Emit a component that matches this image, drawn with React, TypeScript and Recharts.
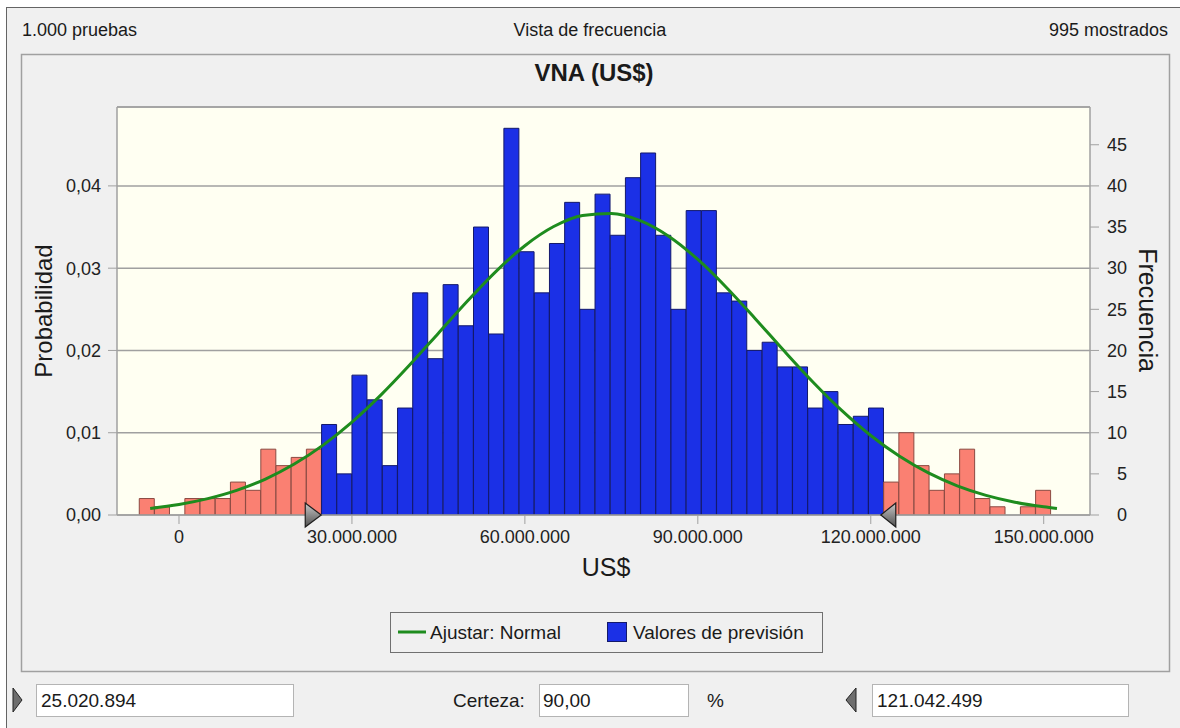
import React from "react";
import {
  ComposedChart,
  Bar,
  Line,
  XAxis,
  YAxis,
  CartesianGrid,
  Cell,
  ReferenceDot,
} from "recharts";

// histogram bins (US$)
const BIN_START = -6.89e6;
const BIN_WIDTH = 2.6353e6;
const frequencies = [
  2, 1, 0, 2, 2, 2, 4, 3, 8, 6, 7, 8,
  11, 5, 17, 14, 6, 13, 27, 19, 28, 23, 35, 22, 47, 32, 27, 33, 38, 25, 39, 34, 41, 44,
  34, 25, 37, 37, 27, 26, 20, 21, 18, 18, 13, 15, 11, 12, 13,
  4, 10, 6, 3, 5, 8, 2, 1, 0, 1, 3,
];

// fitted normal curve (x in millions, probability)
const fitX = [
  -5, 0, 5, 10, 15, 20, 25, 30, 35, 40, 45, 50, 55, 60, 65, 70, 75, 80, 85, 90,
  95, 100, 105, 110, 115, 120, 125, 130, 135, 140, 145, 150, 152.3,
];
const fitProb = [
  0.0008, 0.00128, 0.00199, 0.00299, 0.00437, 0.00619, 0.00849, 0.01129, 0.01457,
  0.01823, 0.0221, 0.02598, 0.02962, 0.03273, 0.03506, 0.03641, 0.03666, 0.03578,
  0.03386, 0.03106, 0.02763, 0.02383, 0.01992, 0.01614, 0.01268, 0.00966, 0.00713,
  0.00511, 0.00355, 0.00239, 0.00156, 0.00099, 0.00079,
];

const LOWER = 25020894;
const UPPER = 121042499;

const X_DOMAIN = [-10.755e6, 158.03e6];
const xTicks = [0, 30e6, 60e6, 90e6, 120e6, 150e6];
const probTicks = [0, 0.01, 0.02, 0.03, 0.04];
const freqTicks = [0, 5, 10, 15, 20, 25, 30, 35, 40, 45];

const FONT = "'Liberation Sans', Arial, sans-serif";
const GRAY = "#a0a0a0";
const RED = "#fa8072";
const BLUE = "#1b30e6";

// plot is 973px wide over X_DOMAIN; pad the bin band so bins line up with the value axis
const PLOT_W = 973;
const pxPerUnit = PLOT_W / (X_DOMAIN[1] - X_DOMAIN[0]);
const BIN_PAD_LEFT = (BIN_START - X_DOMAIN[0]) * pxPerUnit;
const BIN_PAD_RIGHT = (X_DOMAIN[1] - (BIN_START + frequencies.length * BIN_WIDTH)) * pxPerUnit;

const fmtThousands = (v: number) =>
  String(Math.round(v)).replace(/\B(?=(\d{3})+(?!\d))/g, ".");

const bins = frequencies.map((f, i) => ({
  bin: i,
  freq: f,
  start: BIN_START + i * BIN_WIDTH,
}));

const curve = fitX.map((x, i) => ({ x: x * 1e6, prob: fitProb[i] }));

function Marker({ cx, cy, dir }: { cx?: number; cy?: number; dir: "right" | "left" }) {
  if (cx == null || cy == null) return null;
  const id = "mk-" + dir;
  const pts =
    dir === "right"
      ? `${cx - 18},${cy - 12} ${cx - 2},${cy} ${cx - 18},${cy + 12}`
      : `${cx + 19},${cy - 12} ${cx + 4},${cy} ${cx + 19},${cy + 12}`;
  return (
    <g>
      <defs>
        <linearGradient id={id} x1="0" y1="0" x2="0" y2="1">
          <stop offset="0%" stopColor="#c8c8c8" />
          <stop offset="100%" stopColor="#505050" />
        </linearGradient>
      </defs>
      <polygon points={pts} fill={`url(#${id})`} stroke="#1e1e1e" strokeWidth={1.2} />
    </g>
  );
}

function RightTick({ x, y, payload }: any) {
  return (
    <text x={x + 28} y={y} dy="0.35em" textAnchor="end" fontSize={18} fontFamily={FONT} fill="#222">
      {payload.value}
    </text>
  );
}

function Frame() {
  const txt = { fontFamily: FONT, fill: "#1a1a1a" } as const;
  return (
    <svg width={1180} height={728} style={{ position: "absolute", left: 0, top: 0 }}>
      <rect x={0} y={0} width={1180} height={728} fill="#ffffff" />
      <rect x={6} y={7} width={1174} height={721} fill="#f0f0f0" />
      <line x1={6} y1={7.5} x2={1180} y2={7.5} stroke="#646464" />
      <line x1={6.5} y1={7} x2={6.5} y2={728} stroke="#646464" />
      <rect x={21.5} y={54.5} width={1148} height={617} fill="none" stroke={GRAY} strokeWidth={1.5} />

      <text x={22} y={36} fontSize={18} {...txt}>1.000 pruebas</text>
      <text x={590} y={36} fontSize={18} textAnchor="middle" {...txt}>Vista de frecuencia</text>
      <text x={1168} y={36} fontSize={18} textAnchor="end" {...txt}>995 mostrados</text>

      <text x={594} y={81} fontSize={24} fontWeight="bold" textAnchor="middle" {...txt}>VNA (US$)</text>

      <text transform="translate(52,311) rotate(-90)" fontSize={24} textAnchor="middle" {...txt}>Probabilidad</text>
      <text transform="translate(1139,310) rotate(90)" fontSize={25} textAnchor="middle" {...txt}>Frecuencia</text>
      <text x={606} y={576} fontSize={25} textAnchor="middle" {...txt}>US$</text>

      {/* legend */}
      <rect x={390.5} y={612.5} width={432} height={40} fill="none" stroke="#707070" />
      <line x1={398} y1={632} x2={426} y2={632} stroke="#1e8c1e" strokeWidth={3} />
      <text x={430} y={639} fontSize={19} {...txt}>Ajustar: Normal</text>
      <rect x={607.5} y={622.5} width={19} height={19} fill={BLUE} stroke="#13196b" />
      <text x={633} y={639} fontSize={19} {...txt}>Valores de previsión</text>

      {/* certainty inputs */}
      <polygon points="13,688 22,700 13,712" fill="#6e6e6e" stroke="#222" />
      <rect x={36.5} y={684.5} width={257} height={32} fill="#fff" stroke="#b4b4b4" />
      <text x={41} y={707} fontSize={19} {...txt}>25.020.894</text>
      <text x={453} y={707} fontSize={19} {...txt}>Certeza:</text>
      <rect x={539.5} y={684.5} width={149} height={32} fill="#fff" stroke="#b4b4b4" />
      <text x={543} y={707} fontSize={19} {...txt}>90,00</text>
      <text x={707} y={707} fontSize={19} {...txt}>%</text>
      <polygon points="856,688 846,700 856,712" fill="#6e6e6e" stroke="#222" />
      <rect x={872.5} y={684.5} width={256} height={32} fill="#fff" stroke="#b4b4b4" />
      <text x={877} y={707} fontSize={19} {...txt}>121.042.499</text>
    </svg>
  );
}

export default function App() {
  return (
    <div style={{ position: "fixed", left: 0, top: 0, width: 1180, height: 728, overflow: "hidden" }}>
      <Frame />
      <div style={{ position: "absolute", left: 0, top: 0 }}>
        <ComposedChart
          width={1180}
          height={728}
          data={bins}
          barCategoryGap={0}
          barGap={0}
          margin={{ top: 106, right: 30, bottom: 183, left: 0 }}
        >
          <CartesianGrid
            xAxisId="x"
            yAxisId="prob"
            vertical={false}
            stroke={GRAY}
            strokeWidth={1.5}
            fill="#fffff2"
            fillOpacity={1}
          />
          <XAxis
            xAxisId="top"
            orientation="top"
            type="number"
            domain={X_DOMAIN}
            allowDataOverflow
            height={1}
            tick={false}
            tickLine={false}
            axisLine={{ stroke: GRAY, strokeWidth: 1.5 }}
          />
          <XAxis
            xAxisId="bins"
            orientation="top"
            type="category"
            dataKey="bin"
            hide
            height={0}
            padding={{ left: BIN_PAD_LEFT, right: BIN_PAD_RIGHT }}
          />
          <XAxis
            xAxisId="x"
            type="number"
            dataKey="x"
            domain={X_DOMAIN}
            allowDataOverflow
            ticks={xTicks}
            interval={0}
            tickFormatter={fmtThousands}
            height={30}
            tickSize={9}
            tickMargin={6}
            stroke={GRAY}
            axisLine={{ stroke: GRAY, strokeWidth: 1.5 }}
            tick={{ fill: "#222", fontSize: 18, fontFamily: FONT }}
          />
          <YAxis
            yAxisId="prob"
            orientation="left"
            width={117}
            domain={[0, 0.04959]}
            allowDataOverflow
            ticks={probTicks}
            interval={0}
            tickFormatter={(v: number) => v.toFixed(2).replace(".", ",")}
            tickSize={9}
            tickMargin={7}
            stroke={GRAY}
            axisLine={{ stroke: GRAY, strokeWidth: 1.5 }}
            tick={{ fill: "#222", fontSize: 18, fontFamily: FONT }}
          />
          <YAxis
            yAxisId="freq"
            orientation="right"
            width={60}
            domain={[0, 49.59]}
            allowDataOverflow
            ticks={freqTicks}
            interval={0}
            tickSize={9}
            tickMargin={0}
            stroke={GRAY}
            axisLine={{ stroke: GRAY, strokeWidth: 1.5 }}
            tick={<RightTick />}
          />
          <Bar
            xAxisId="bins"
            yAxisId="freq"
            dataKey="freq"
            isAnimationActive={false}
          >
            {bins.map((b, i) => {
              const inside = b.start + BIN_WIDTH > LOWER && b.start < UPPER;
              return (
                <Cell
                  key={i}
                  fill={inside ? BLUE : RED}
                  stroke={inside ? "#13196b" : "#8b4a42"}
                  strokeWidth={1}
                />
              );
            })}
          </Bar>
          <Line
            xAxisId="x"
            yAxisId="prob"
            data={curve}
            dataKey="prob"
            type="monotone"
            stroke="#1e8c1e"
            strokeWidth={3}
            dot={false}
            activeDot={false}
            isAnimationActive={false}
          />
          <ReferenceDot
            xAxisId="x"
            yAxisId="freq"
            x={LOWER}
            y={0}
            r={0}
            ifOverflow="visible"
            shape={(p: any) => <Marker cx={p.cx} cy={p.cy} dir="right" />}
          />
          <ReferenceDot
            xAxisId="x"
            yAxisId="freq"
            x={UPPER}
            y={0}
            r={0}
            ifOverflow="visible"
            shape={(p: any) => <Marker cx={p.cx} cy={p.cy} dir="left" />}
          />
        </ComposedChart>
      </div>
    </div>
  );
}
